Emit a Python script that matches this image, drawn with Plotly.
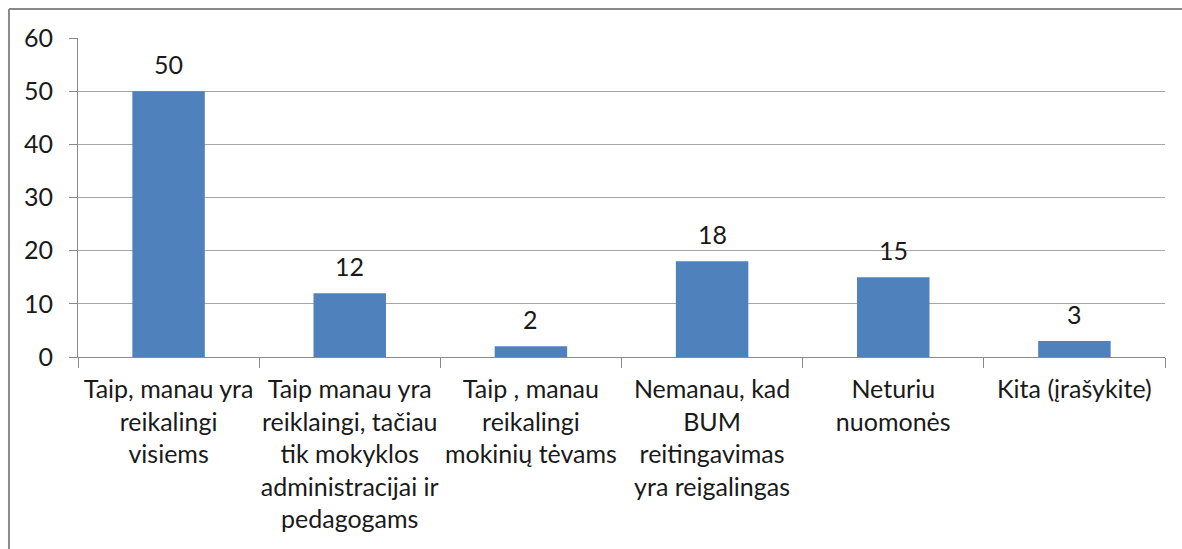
import plotly.graph_objects as go

# Survey answers (category labels, wrapped over several lines) and counts
categories = [
    "Taip, manau yra<br>reikalingi<br>visiems",
    "Taip manau yra<br>reiklaingi, tačiau<br>tik mokyklos<br>administracijai ir<br>pedagogams",
    "Taip , manau<br>reikalingi<br>mokinių tėvams",
    "Nemanau, kad<br>BUM<br>reitingavimas<br>yra reigalingas",
    "Neturiu<br>nuomonės",
    "Kita (įrašykite)",
]
values = [50, 12, 2, 18, 15, 3]
y_ticks = [0, 10, 20, 30, 40, 50, 60]

FONT = "Lato"
FS = 25
TEXT = "#1a1a1a"
BAR = "#4F81BD"
GRID = "#A6A6A6"

fig = go.Figure()
fig.add_trace(go.Bar(
    x=categories,
    y=values,
    marker=dict(color=BAR, line=dict(width=0)),
    width=0.4,
    hoverinfo="skip",
))

# Value labels above each bar
for c, v in zip(categories, values):
    fig.add_annotation(
        x=c, y=v, text=str(v), showarrow=False,
        yanchor="bottom", yshift=10,
        font=dict(family=FONT, size=FS, color=TEXT),
    )

# Outer chart frame (top and left edges visible)
frame = dict(color="#8A8A8A", width=2)
fig.add_shape(type="line", xref="paper", yref="paper",
              x0=-0.0635, x1=1.05, y0=1.0909, y1=1.0909, line=frame)
fig.add_shape(type="line", xref="paper", yref="paper",
              x0=-0.0635, x1=-0.0635, y0=1.0909, y1=-0.65, line=frame)

fig.update_layout(
    width=1182, height=549,
    margin=dict(l=78, r=17, t=38, b=192),
    paper_bgcolor="white", plot_bgcolor="white",
    showlegend=False,
    bargap=0.6,
    font=dict(family=FONT, size=FS, color=TEXT),
)
fig.update_xaxes(
    type="category",
    tickson="boundaries",
    ticks="outside", ticklen=10, tickcolor="#8A8A8A", tickwidth=1,
    showline=True, linecolor="#8A8A8A", linewidth=1,
    showgrid=False,
    tickangle=0,
    tickfont=dict(family=FONT, size=FS, color=TEXT),
    ticklabelstandoff=10,
)
fig.update_yaxes(
    range=[0, 60],
    tickvals=y_ticks,
    ticktext=[str(t) for t in y_ticks],
    ticks="outside", ticklen=8, tickcolor="#8A8A8A", tickwidth=1,
    showline=True, linecolor="#8A8A8A", linewidth=1,
    showgrid=True, gridcolor=GRID, gridwidth=1,
    zeroline=False,
    tickfont=dict(family=FONT, size=FS, color=TEXT),
    ticklabelstandoff=11,
)

fig.write_html("out.html")
